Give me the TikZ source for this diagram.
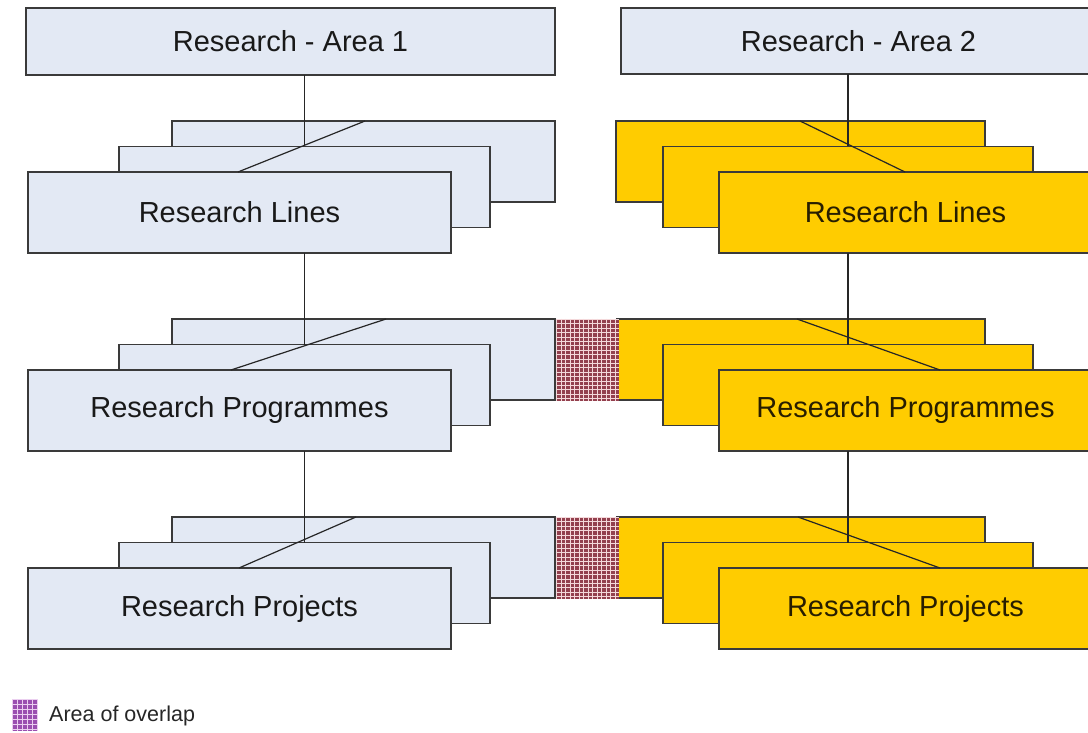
\documentclass[tikz,border=0pt]{standalone}
\usepackage{fontspec}
\setmainfont{Liberation Sans}
\usetikzlibrary{positioning}

\definecolor{areablue}{HTML}{E3E9F4}
\definecolor{areagold}{HTML}{FFCC00}
\definecolor{edgegrey}{HTML}{3A3A3A}
\definecolor{overlapred}{HTML}{93404E}
\definecolor{overlaplines}{HTML}{F4D8DA}
\definecolor{legendpurple}{HTML}{9A4FB0}
\definecolor{legendlines}{HTML}{EBCFF0}

\begin{document}
\begin{tikzpicture}[x=1pt,y=1pt,yscale=-1,
	box/.style={draw=edgegrey,line width=1.4pt,inner sep=0pt,outer sep=0pt,minimum height=81pt,
		font=\fontsize{29}{34}\selectfont,text=black!90},
	bluebox/.style={box,fill=areablue},
	goldbox/.style={box,fill=areagold,text={rgb,255:red,40;green,30;blue,0}},
	link/.style={draw=black!85,line width=1.2pt}]
	\useasboundingbox (0,0) rectangle (1088,733);
	\fill[white] (0,0) rectangle (1088,733);

	% the two research areas
	\node [bluebox,minimum width=529pt,minimum height=67pt] (a1) at (290.5,41.5) {Research - Area 1};
	\node [bluebox,minimum width=475pt,minimum height=66pt] (a2) at (858.5,41) {Research - Area 2};

	% research lines
	\node [bluebox,minimum width=383pt] (l1b) at (363.5,161.5) {};
	\node [bluebox,minimum width=371pt] (l1m) at (304.5,187) {};
	\node [bluebox,minimum width=423pt] (l1f) at (239.5,212.5) {Research Lines};
	\node [goldbox,minimum width=369pt] (l2b) at (800.5,161.5) {};
	\node [goldbox,minimum width=370pt] (l2m) at (848,187) {};
	\node [goldbox,minimum width=373pt] (l2f) at (905.5,212.5) {Research Lines};

	% research programmes
	\node [bluebox,minimum width=383pt] (p1b) at (363.5,359.5) {};
	\node [bluebox,minimum width=371pt] (p1m) at (304.5,385) {};
	\node [bluebox,minimum width=423pt] (p1f) at (239.5,410.5) {Research Programmes};
	\node [goldbox,minimum width=368pt] (p2b) at (801,359.5) {};
	\node [goldbox,minimum width=370pt] (p2m) at (848,385) {};
	\node [goldbox,minimum width=373pt] (p2f) at (905.5,410.5) {Research Programmes};

	% research projects
	\node [bluebox,minimum width=383pt] (j1b) at (363.5,557.5) {};
	\node [bluebox,minimum width=371pt] (j1m) at (304.5,583) {};
	\node [bluebox,minimum width=423pt] (j1f) at (239.5,608.5) {Research Projects};
	\node [goldbox,minimum width=368pt] (j2b) at (801,557.5) {};
	\node [goldbox,minimum width=370pt] (j2m) at (848,583) {};
	\node [goldbox,minimum width=373pt] (j2f) at (905.5,608.5) {Research Projects};

	% overlap between the two areas
	\foreach \t in {319,517} {
		\fill[overlapred] (555.7,\t-0.5) rectangle (619,\t+81.5);
		\foreach \i in {0,...,13}
			\draw[overlaplines,line width=1pt] (556.5+4.5*\i,\t-0.5) -- ++(0,82);
		\foreach \j in {0,...,18}
			\draw[overlaplines,line width=1pt] (555.7,\t+0.5+4.4*\j) -- ++(63.3,0);
	}

	% connectors
	\draw [link] (l1m.north |- a1.south) -- (l1m.north);
	\draw [link] (l2m.north |- a2.south) -- (l2m.north);
	\draw [link] (p1m.north |- l1f.south) -- (p1m.north);
	\draw [link] (p2m.north |- l2f.south) -- (p2m.north);
	\draw [link] (j1m.north |- p1f.south) -- (j1m.north);
	\draw [link] (j2m.north |- p2f.south) -- (j2m.north);

	\draw [link] (l1f.north -| 238,0) -- (l1b.north -| 365,0);
	\draw [link] (p1f.north -| 231,0) -- (p1b.north -| 386,0);
	\draw [link] (j1f.north -| 239,0) -- (j1b.north -| 356,0);
	\draw [link] (l2f.north -| 905,0) -- (l2b.north -| 800,0);
	\draw [link] (p2f.north -| 940,0) -- (p2b.north -| 797,0);
	\draw [link] (j2f.north -| 940,0) -- (j2b.north -| 798,0);

	% legend
	\fill[legendpurple] (12,699) rectangle (38,731);
	\foreach \i in {0,...,5}
		\draw[legendlines,line width=1pt] (12.5+5*\i,699) -- ++(0,32);
	\foreach \j in {0,...,6}
		\draw[legendlines,line width=1pt] (12,699.5+5*\j) -- ++(26,0);
	\node [anchor=west,inner sep=0pt,font=\fontsize{21.5}{25}\selectfont,text=black!85] (legend) at (49,716) {Area of overlap};
\end{tikzpicture}
\end{document}
